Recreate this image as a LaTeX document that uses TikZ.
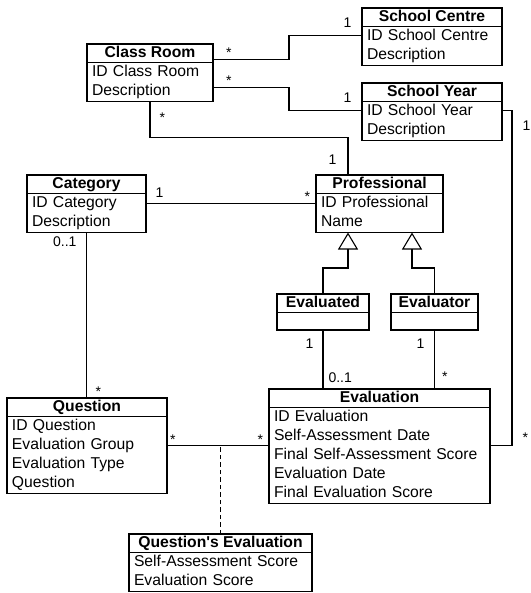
\documentclass[tikz,border=0pt]{standalone}
\usepackage{fontspec}
\setmainfont{Liberation Sans}[Ligatures=TeXOff]
\usetikzlibrary{positioning, arrows.meta}
\tikzset{
  ctitle/.style={draw, line width=1.1pt, outer sep=0pt, inner sep=0pt, minimum width=#1, minimum height=18.5pt,
    text height=11pt, text depth=3pt, font=\fontsize{15.7}{19}\selectfont\bfseries},
  cbody/.style={draw, line width=1.1pt, outer sep=0pt, inner xsep=5pt, inner ysep=0.5pt, text width=#1, align=left,
    font=\fontsize{15.7}{19}\selectfont, execute at begin node=\noindent\strut, execute at end node=\strut},
  cempty/.style={draw, line width=1.1pt, outer sep=0pt, minimum width=#1, minimum height=17.5pt},
  assoc/.style={line width=1.1pt},
  isa/.style={line width=1.1pt, -{Triangle[open, length=17pt, width=20pt]}},
  mult/.style={font=\fontsize{14}{14}\selectfont, inner sep=0pt},
}

\begin{document}
\begin{tikzpicture}[x=1pt, y=-1pt]
  \useasboundingbox (0,0) rectangle (530,593);
  % classes: title bar with the attribute box below it
  \node[ctitle=126pt, anchor=north west] (room) at (87,44) {Class Room};
  \node[cbody=116pt, below=0pt of room] (room-b) {ID Class Room\\Description};
  \node[ctitle=140pt, anchor=north west] (centre) at (362,8) {School Centre};
  \node[cbody=130pt, below=0pt of centre] (centre-b) {ID School Centre\\Description};
  \node[ctitle=140pt, anchor=north west] (year) at (362,83) {School Year};
  \node[cbody=130pt, below=0pt of year] (year-b) {ID School Year\\Description};
  \node[ctitle=119pt, anchor=north west] (cat) at (27,175) {Category};
  \node[cbody=109pt, below=0pt of cat] (cat-b) {ID Category\\Description};
  \node[ctitle=127pt, anchor=north west] (prof) at (316,175) {Professional};
  \node[cbody=117pt, below=0pt of prof] (prof-b) {ID Professional\\Name};
  \node[ctitle=92pt, anchor=north west] (evd) at (277,294) {Evaluated};
  \node[cempty=92pt, below=0pt of evd] (evd-b) {};
  \node[ctitle=87pt, anchor=north west] (evr) at (391,294) {Evaluator};
  \node[cempty=87pt, below=0pt of evr] (evr-b) {};
  \node[ctitle=221pt, anchor=north west] (eval) at (269,389) {Evaluation};
  \node[cbody=211pt, below=0pt of eval] (eval-b) {ID Evaluation\\Self-Assessment Date\\Final Self-Assessment Score\\Evaluation Date\\Final Evaluation Score};
  \node[ctitle=160pt, anchor=north west] (quest) at (7,398) {Question};
  \node[cbody=150pt, below=0pt of quest] (quest-b) {ID Question\\Evaluation Group\\Evaluation Type\\Question};
  \node[ctitle=183pt, anchor=north west] (qeval) at (129,534) {Question's Evaluation};
  \node[cbody=173pt, below=0pt of qeval] (qeval-b) {Self-Assessment Score\\Evaluation Score};

  % associations
  \draw[assoc] ([yshift=3pt]room.south east)
    -- node[mult, pos=0, anchor=base west, xshift=12.5pt, yshift=2pt] (m1) {*} ++(76,0)
    |- node[mult, pos=1, anchor=base east, xshift=-10pt, yshift=7.5pt] (m2) {1} ([yshift=-9pt]centre-b.north west);
  \draw[assoc] ([yshift=-5.5pt]room-b.east)
    -- node[mult, pos=0, anchor=base west, xshift=12.5pt, yshift=2pt] (m3) {*} ++(76,0)
    |- node[mult, pos=1, anchor=base east, xshift=-10pt, yshift=7.5pt] (m4) {1} ([yshift=-9pt]year-b.north west);
  \draw[assoc] (room-b.south)
    -- node[mult, pos=0, anchor=base west, xshift=9pt, yshift=-21.5pt] (m5) {*} ++(0,36)
    -| node[mult, pos=1, anchor=base east, xshift=-11pt, yshift=10pt] (m6) {1} ([xshift=-31.5pt]prof.north);
  \draw[assoc] ([yshift=-10pt]cat-b.north east)
    -- node[mult, pos=0, anchor=base west, xshift=9pt, yshift=5.5pt] (m7) {1}
       node[mult, pos=1, anchor=base east, xshift=-5.5pt, yshift=2pt] (m8) {*}
    ([yshift=-10pt]prof-b.north west);
  \draw[assoc] (cat-b.south)
    -- node[mult, pos=0, anchor=base east, xshift=-9.5pt, yshift=-14.5pt] (m9) {0..1}
       node[mult, pos=1, anchor=base west, xshift=8.5pt, yshift=2pt] (m10) {*}
    (cat-b.south |- quest.north);

  % generalisation
  \draw[isa] (evd.north) -- ++(0,-26) -| ([xshift=-31.5pt]prof-b.south);
  \draw[isa] (evr.north) -- ++(0,-26) -| ([xshift=32.5pt]prof-b.south);

  \draw[assoc] (evd-b.south)
    -- node[mult, pos=0, anchor=base east, xshift=-9pt, yshift=-18pt] (m11) {1}
       node[mult, pos=1, anchor=base west, xshift=5pt, yshift=6.5pt] (m12) {0..1}
    (evd-b.south |- eval.north);
  \draw[assoc] (evr-b.south)
    -- node[mult, pos=0, anchor=base east, xshift=-9.5pt, yshift=-18pt] (m13) {1}
       node[mult, pos=1, anchor=base west, xshift=7pt, yshift=8pt] (m14) {*}
    (evr-b.south |- eval.north);
  \draw[assoc] ([yshift=-9pt]year-b.north east)
    -- node[mult, pos=0, anchor=base west, xshift=20pt, yshift=-20.5pt] (m15) {1} ++(10,0)
    |- node[mult, pos=1, anchor=base west, xshift=32pt, yshift=3pt] (m16) {*} ([yshift=-38pt]eval-b.north east);

  % question/evaluation with its association class
  \draw[assoc] ([yshift=-29pt]quest-b.north east) coordinate (qlink)
    -- node[mult, pos=0, anchor=base west, xshift=2.5pt, yshift=1.5pt] (m17) {*}
       node[mult, pos=1, anchor=base east, xshift=-5.5pt, yshift=1.5pt] (m18) {*}
    ([yshift=-38pt]eval-b.north west);
  \draw[assoc, dash pattern=on 4.5pt off 3pt] (qeval.north) -- (qeval.north |- qlink);
\end{tikzpicture}
\end{document}
